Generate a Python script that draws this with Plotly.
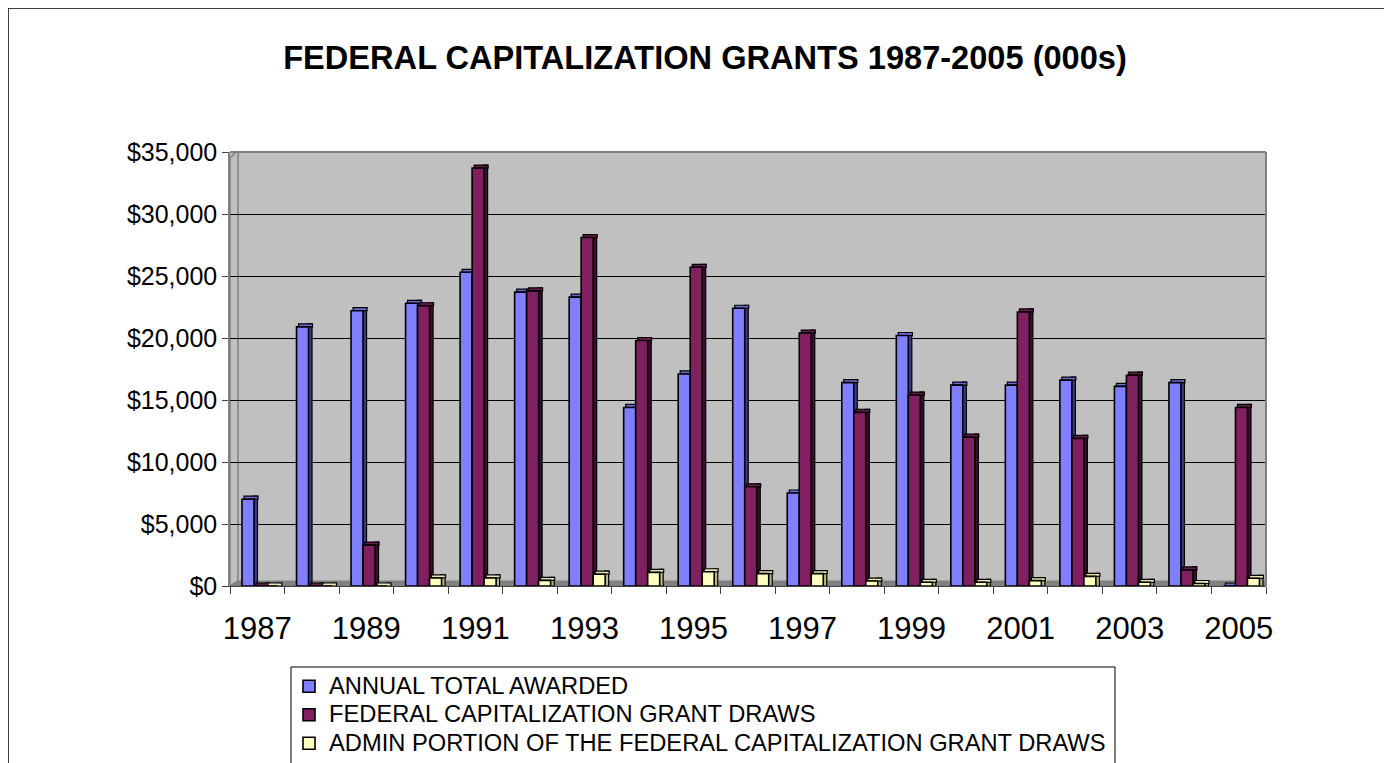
import plotly.graph_objects as go

# ---- data (values in $000s) ----
years = [1987, 1988, 1989, 1990, 1991, 1992, 1993, 1994, 1995, 1996,
         1997, 1998, 1999, 2000, 2001, 2002, 2003, 2004, 2005]
annual_total_awarded = [7000, 20900, 22200, 22800, 25300, 23700, 23300, 14400, 17100, 22400,
                        7500, 16400, 20200, 16200, 16200, 16600, 16100, 16400, 0]
grant_draws = [0, 0, 3300, 22600, 33700, 23800, 28100, 19800, 25700, 8000,
               20400, 14000, 15400, 12000, 22100, 11900, 17000, 1300, 14400]
admin_portion = [0, 0, 0, 650, 650, 450, 950, 1100, 1150, 1000,
                 1000, 400, 300, 300, 430, 780, 300, 200, 620]
tick_years = [1987, 1989, 1991, 1993, 1995, 1997, 1999, 2001, 2003, 2005]

series_names = ["ANNUAL TOTAL AWARDED",
                "FEDERAL CAPITALIZATION GRANT DRAWS",
                "ADMIN PORTION OF THE FEDERAL CAPITALIZATION GRANT DRAWS"]
front_colors = ["#8080FF", "#802060", "#FFFFC0"]
side_colors = ["#3C3C88", "#3A0E2C", "#B8B888"]
cap_colors = ["#6A6AD8", "#6A1A50", "#E8E8B0"]

FONT = "Liberation Sans, Arial, sans-serif"

W, H = 1392, 763
PAGE = 8                      # page body offset of the figure
# plot area in page pixels
L, R, T, B = 230, 1266, 152, 586
fL, fR, fT, fB = L - PAGE, R - PAGE, T - PAGE, B - PAGE
pw, ph = fR - fL, fB - fT
YMAX = 35000

def px_x(x):   # page pixel -> paper x
    return (x - PAGE - fL) / pw

def px_y(y):   # page pixel -> paper y
    return (fB - (y - PAGE)) / ph

x0d, x1d = years[0] - 0.5, years[-1] + 0.5
ux = (x1d - x0d) / pw          # data units per pixel (x)
uy = YMAX / ph                 # data units per pixel (y)

FRONT_W = 12 * ux
SIDE_W = 4 * ux
DEPTH_Y = 3 * uy
front_offsets = [-0.28, -0.28 + FRONT_W, -0.28 + 2 * FRONT_W]

fig = go.Figure()
for name, vals, fc, sc, cc, off in zip(series_names,
                                       [annual_total_awarded, grant_draws, admin_portion],
                                       front_colors, side_colors, cap_colors, front_offsets):
    # side face (pseudo-3D depth)
    fig.add_trace(go.Bar(
        x=years, y=[v + DEPTH_Y for v in vals], base=0,
        marker=dict(color=sc, line=dict(color="black", width=1.2)),
        width=SIDE_W, offset=off + FRONT_W - 0.5 * ux,
        showlegend=False, hoverinfo="skip",
    ))
    # top cap
    fig.add_trace(go.Bar(
        x=years, y=[DEPTH_Y] * len(vals), base=vals,
        marker=dict(color=cc, line=dict(color="black", width=1.2)),
        width=FRONT_W + 2 * ux, offset=off + 2 * ux,
        showlegend=False, hoverinfo="skip",
    ))
    # front face
    fig.add_trace(go.Bar(
        x=years, y=vals,
        name=f'<span style="font-size:23.7px">{name}</span>',
        marker=dict(color=fc, line=dict(color="black", width=1.6)),
        width=FRONT_W, offset=off,
    ))

shapes = [
    # outer chart border (extends past right/bottom of the view)
    dict(type="rect", xref="paper", yref="paper",
         x0=px_x(8), x1=px_x(1420), y0=px_y(800), y1=px_y(8),
         line=dict(color="black", width=1.5), fillcolor="rgba(0,0,0,0)"),
    # legend box
    dict(type="rect", xref="paper", yref="paper",
         x0=px_x(291), x1=px_x(1115), y0=px_y(800), y1=px_y(667),
         line=dict(color="black", width=1), fillcolor="rgba(0,0,0,0)"),
    # floor
    dict(type="path", xref="x", yref="y", layer="below",
         path=f"M {x0d},0 L {x1d},0 L {x1d + 6*ux},{5*uy} L {x0d + 8*ux},{5*uy} Z",
         fillcolor="#808080", line=dict(color="#808080", width=1)),
    # left wall
    dict(type="path", xref="x", yref="y", layer="below",
         path=(f"M {x0d},0 L {x0d + 8*ux},{5*uy} L {x0d + 8*ux},{YMAX + 2*uy} "
               f"L {x0d},{YMAX - 6*uy} Z"),
         fillcolor="#C0C0C0", line=dict(color="#808080", width=1.5)),
    # back wall border: top and right edges
    dict(type="line", xref="paper", yref="paper",
         x0=0, x1=1, y0=1, y1=1, line=dict(color="#808080", width=2)),
    dict(type="line", xref="paper", yref="paper",
         x0=1, x1=1, y0=0, y1=1, line=dict(color="#808080", width=2)),
]

fig.update_layout(
    width=W, height=H, autosize=False,
    margin=dict(l=fL, r=W - fR, t=fT, b=H - fB, pad=0, autoexpand=False),
    paper_bgcolor="white", plot_bgcolor="#C0C0C0",
    font=dict(family=FONT, color="black"),
    title=dict(text="<b>FEDERAL CAPITALIZATION GRANTS 1987-2005 (000s)</b>",
               x=(705 - PAGE) / W, xanchor="center",
               y=1 - (58 - PAGE) / H, yanchor="middle",
               font=dict(family=FONT, size=32.6, color="black")),
    barmode="overlay",
    showlegend=True,
    legend=dict(x=px_x(289), y=px_y(667), xanchor="left", yanchor="top",
                bgcolor="rgba(0,0,0,0)", borderwidth=0,
                font=dict(family=FONT, size=19.6, color="black"),
                traceorder="normal", tracegroupgap=0),
    shapes=shapes,
)

fig.update_xaxes(
    range=[x0d, x1d],
    tickmode="array", tickvals=tick_years, ticktext=[str(y) for y in tick_years],
    ticks="", showgrid=False, zeroline=False,
    showline=True, linecolor="#404040", linewidth=1,
    tickfont=dict(family=FONT, size=31, color="black"),
    ticklabelstandoff=15,
    minor=dict(ticks="outside", ticklen=7, tickcolor="#404040", tickwidth=1,
               tickmode="array",
               tickvals=[y - 0.5 for y in years] + [years[-1] + 0.5],
               showgrid=False),
)
fig.update_yaxes(
    range=[0, YMAX], tickmode="linear", tick0=0, dtick=5000,
    tickprefix="$", tickformat=",",
    showgrid=True, gridcolor="black", gridwidth=1,
    zeroline=False, showline=True, linecolor="#808080", linewidth=1.5,
    ticks="outside", ticklen=6, tickcolor="#404040",
    tickfont=dict(family=FONT, size=25, color="black"),
)

fig.write_html("out.html")
